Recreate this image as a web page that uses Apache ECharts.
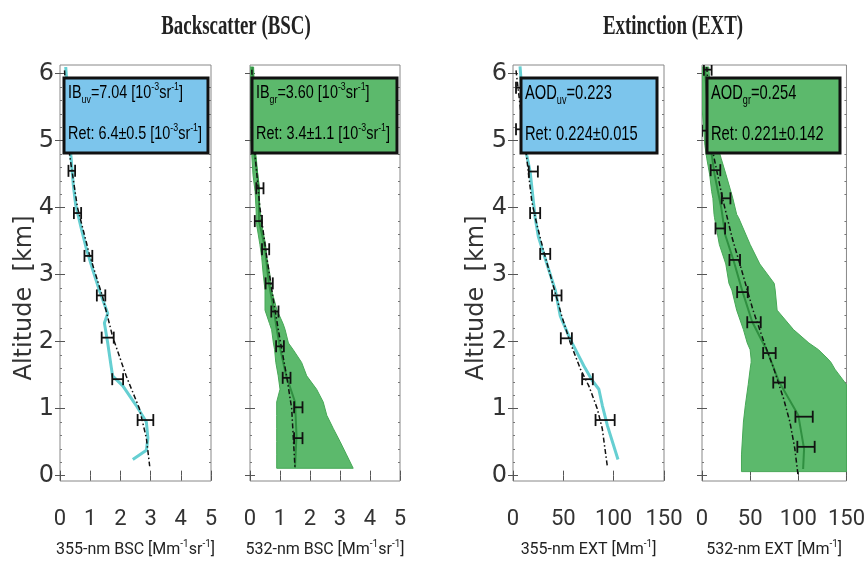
<!DOCTYPE html>
<html><head><meta charset="utf-8">
<script src="https://cdn.jsdelivr.net/npm/echarts@6/dist/echarts.min.js"></script>
<style>html,body{margin:0;padding:0;background:#fff}#c{width:868px;height:563px}</style>
</head><body><div id="c"></div>
<script>
// ---------------- data ----------------
const altTicks = [0, 1, 2, 3, 4, 5, 6];
const altMinorTicks = [0.2,0.4,0.6,0.8,1.2,1.4,1.6,1.8,2.2,2.4,2.6,2.8,3.2,3.4,3.6,3.8,4.2,4.4,4.6,4.8,5.2,5.4,5.6,5.8];
// Panel 1: 355-nm BSC
const bsc355Meas = [[0.19,6.1],[0.28,5.5],[0.36,4.78],[0.44,4.34],[0.52,4.04],[0.7,3.7],[0.86,3.41],[1.1,3.05],[1.3,2.77],[1.58,2.42],[1.47,2.28],[1.58,1.98],[1.69,1.64],[1.74,1.49],[2.08,1.34],[2.52,1.05],[2.86,0.8],[2.91,0.56],[2.86,0.38],[2.41,0.24]];
const bsc355Ret = [[0.15,6.05],[0.25,5.3],[0.32,4.78],[0.58,4.0],[0.97,3.31],[1.41,2.67],[1.74,2.08],[2.19,1.49],[2.63,1.0],[2.86,0.56],[2.97,0.14]];
const bsc355Err = [[0.39,4.55,0.11],[0.58,3.92,0.12],[0.94,3.28,0.13],[1.36,2.69,0.14],[1.58,2.06,0.2],[1.91,1.44,0.18],[2.83,0.83,0.26]];
// Panel 2: 532-nm BSC
const bsc532Band = [ // [alt, low, high]
  [6.1,0,0.12],[5.0,0.03,0.2],[4.78,0.06,0.2],[4.49,0.1,0.26],[4.24,0.17,0.3],[4.0,0.2,0.33],[3.75,0.22,0.39],[3.45,0.33,0.52],[3.26,0.39,0.56],[3.01,0.44,0.66],[2.77,0.5,0.72],[2.47,0.5,0.9],[2.27,0.65,1.1],[2.18,0.72,1.17],[1.98,0.78,1.28],[1.88,0.82,1.44],[1.69,0.86,1.72],[1.49,0.94,1.89],[1.29,1.0,2.22],[1.10,0.89,2.44],[0.90,0.89,2.56],[0.70,0.89,2.78],[0.51,0.89,3.0],[0.31,0.89,3.22],[0.11,0.89,3.44]];
const bsc532Meas = [[0.08,6.1],[0.12,5.2],[0.15,4.8],[0.3,4.3],[0.3,3.8],[0.5,3.4],[0.62,2.9],[0.8,2.45],[0.98,1.95],[1.2,1.5],[1.5,1.1],[1.55,0.6],[1.5,0.12]];
const bsc532Ret = [[0.06,6.06],[0.17,4.78],[0.33,4.0],[0.56,3.26],[0.78,2.62],[1.0,2.03],[1.22,1.49],[1.39,1.0],[1.5,0.11]];
const bsc532Err = [[0.33,4.29,0.12],[0.28,3.8,0.12],[0.52,3.38,0.12],[0.64,2.87,0.12],[0.83,2.45,0.12],[1.0,1.93,0.13],[1.22,1.46,0.13],[1.61,1.02,0.14],[1.61,0.56,0.14]];
// Panel 3: 355-nm EXT
const ext355Meas = [[7,6.11],[10,5.5],[13.7,4.78],[17,4.54],[20.3,4.09],[22,3.85],[25.3,3.56],[33.7,3.16],[42,2.77],[47,2.38],[57,2.03],[70.3,1.64],[78.7,1.42],[85.3,1.29],[88.7,1.05],[93.7,0.75],[98.7,0.51],[104.3,0.24]];
const ext355Ret = [[3,6.05],[8,5.4],[13.7,4.73],[18.7,4.09],[23.7,3.75],[30.3,3.36],[40.3,2.82],[48.7,2.37],[57,1.98],[67,1.59],[75.3,1.34],[83.7,1.0],[88.7,0.7],[93.7,0.14]];
const ext355Err = [[8,5.79,5],[8,5.17,5],[20.2,4.54,4.5],[22,3.92,5],[32,3.31,5],[43.5,2.69,4.7],[53,2.05,5.5],[74,1.44,5.3],[91.5,0.83,9.5]];
// Panel 4: 532-nm EXT
const ext532Band = [
  [6.1,0,7],[5.5,0,10],[4.93,3,16],[4.73,5,20],[4.49,8,25],[4.24,10,30],[4.14,11.3,32],[3.9,12.5,36],[3.85,13,38],[3.45,18,50],[3.16,24.7,60],[2.87,28,75],[2.77,31,76],[2.47,36,78],[2.18,43,95],[1.98,47,111],[1.88,50,121],[1.74,51,131],[1.69,51,134],[1.59,50,138],[1.36,48,150],[1.05,45,150],[0.8,43,150],[0.31,41,150],[0.06,41,150]];
const ext532Meas = [[3,6.1],[8,5.0],[13,4.5],[20,4.0],[24,3.6],[33,3.2],[42,2.75],[52,2.3],[68,1.85],[80,1.4],[100,0.9],[106,0.4],[105,0.1]];
const ext532Ret = [[5,6.1],[8,5.4],[11.3,4.83],[21.3,4.14],[31.3,3.55],[41.3,3.06],[53,2.47],[64.7,1.98],[74.7,1.59],[84.7,1.15],[91.3,0.8],[96.3,0.41],[99.7,0.01]];
const ext532Err = [[6,6.06,4],[4,5.15,4],[14,4.56,5],[25,4.14,4.5],[19,3.69,5],[34,3.22,5.5],[42,2.74,5.5],[54,2.29,7],[70,1.83,6.5],[80,1.39,6],[106,0.88,9],[108,0.43,9]];

const xNames = ['{n|355-nm BSC [Mm}{p|-1}{n|sr}{p|-1}{n|]}','{n|532-nm BSC [Mm}{p|-1}{n|sr}{p|-1}{n|]}','{n|355-nm EXT [Mm}{p|-1}{n|]}','{n|532-nm EXT [Mm}{p|-1}{n|]}'];
const boxTexts = [
  ['{n|IB}{s|uv}{n|=7.04 [10}{p|-3}{n|sr}{p|-1}{n|]}', '{n|Ret: 6.4±0.5 [10}{p|-3}{n|sr}{p|-1}{n|]}'],
  ['{n|IB}{s|gr}{n|=3.60 [10}{p|-3}{n|sr}{p|-1}{n|]}', '{n|Ret: 3.4±1.1 [10}{p|-3}{n|sr}{p|-1}{n|]}'],
  ['{n|AOD}{s|uv}{n|=0.223}', '{n|Ret: 0.224±0.015}'],
  ['{n|AOD}{s|gr}{n|=0.254}', '{n|Ret: 0.221±0.142}']
];
const titles = ['Backscatter (BSC)', 'Extinction (EXT)'];
const yTitle = 'Altitude  [km]';

// ---------------- layout / style ----------------
const SANS = '"Liberation Sans",Arial,sans-serif';
const TICKF = 'Roboto,"Liberation Sans",sans-serif';
const CYAN = '#66cfd2', BLUE_BOX = '#7cc5ec', GREEN = '#5cb96c', GREEN_EDGE = '#47a857', DKGREEN = '#2f8f40';
const grids = [
  {left:60, top:65, width:151, height:421},
  {left:250, top:65, width:150, height:421},
  {left:513, top:65, width:151, height:421},
  {left:702, top:65, width:150, height:421}
];
const xMax = [5,5,150,150], xInt = [1,1,50,50];
const YMIN = -0.08, YMAX = 6.13;

const supRich = (size, color, fam) => ({
  n:{fontSize:size, fontFamily:fam, color:color, lineHeight:size+6},
  p:{fontSize:Math.round(size*0.6), fontFamily:fam, color:color, lineHeight:Math.round(size*0.6), verticalAlign:'top'},
  s:{fontSize:Math.round(size*0.62), fontFamily:fam, color:color, lineHeight:Math.round(size*0.6), verticalAlign:'bottom'}
});

const xAxes = [], yAxes = [];
const yAxisIdx = [];
grids.forEach((g, i) => {
  const tick = {inside:true, length:5, lineStyle:{color:'#555'}};
  const minor = {inside:true, length:2, lineStyle:{color:'#777'}, customValues:altMinorTicks};
  xAxes.push({type:'value', gridIndex:i, min:0, max:xMax[i], interval:xInt[i], position:'bottom',
    axisLine:{show:false}, axisTick:tick, splitLine:{show:false},
    axisLabel:{margin:27, fontSize:22, fontFamily:TICKF, color:'#333'},
    name:xNames[i], nameLocation:'middle', nameGap:58, nameTextStyle:{rich:supRich(16,'#222',TICKF)}});
  xAxes.push({type:'value', gridIndex:i, min:0, max:xMax[i], interval:xInt[i], position:'top',
    axisLine:{show:false}, axisTick:tick, splitLine:{show:false}, axisLabel:{show:false}});
  const hasLab = (i === 0 || i === 2);
  yAxisIdx.push(yAxes.length);
  yAxes.push({type:'value', gridIndex:i, min:YMIN, max:YMAX, position:'left',
    axisLine:{show:false}, splitLine:{show:false},
    axisTick:Object.assign({customValues:altTicks}, tick),
    axisLabel:{show:hasLab, customValues:altTicks, margin:6, fontSize:24, fontFamily:'"DejaVu Sans",sans-serif', color:'#333'}});
  yAxes.push({type:'value', gridIndex:i, min:YMIN, max:YMAX, position:'right',
    axisLine:{show:false}, splitLine:{show:false},
    axisTick:Object.assign({customValues:altTicks}, tick), axisLabel:{show:false}});
  // minor tick marks on both sides
  yAxes.push({type:'value', gridIndex:i, min:YMIN, max:YMAX, position:'left', offset:0,
    axisLine:{show:false}, splitLine:{show:false}, axisTick:minor, axisLabel:{show:false}});
  yAxes.push({type:'value', gridIndex:i, min:YMIN, max:YMAX, position:'right', offset:0,
    axisLine:{show:false}, splitLine:{show:false}, axisTick:minor, axisLabel:{show:false}});
});

function lineSeries(i, data, color, width, dash, z) {
  return {type:'line', xAxisIndex:2*i, yAxisIndex:yAxisIdx[i], data:data, showSymbol:false, symbol:'none',
    lineStyle:{color:color, width:width, type:dash || 'solid'}, z:z, silent:true, clip:true};
}
function errSeries(i, data) {
  return {type:'custom', xAxisIndex:2*i, yAxisIndex:yAxisIdx[i], data:data, z:5, silent:true, clip:true,
    renderItem:function(params, api){
      const x = api.value(0), y = api.value(1), e = api.value(2);
      const l = api.coord([x-e, y]), r = api.coord([x+e, y]);
      const st = {stroke:'#111', lineWidth:1.8};
      return {type:'group', children:[
        {type:'line', shape:{x1:l[0], y1:l[1], x2:r[0], y2:r[1]}, style:st},
        {type:'line', shape:{x1:l[0], y1:l[1]-6, x2:l[0], y2:l[1]+6}, style:st},
        {type:'line', shape:{x1:r[0], y1:r[1]-6, x2:r[0], y2:r[1]+6}, style:st}
      ]};
    }};
}
function bandSeries(i, band) {
  return {type:'custom', xAxisIndex:2*i, yAxisIndex:yAxisIdx[i], data:band.map(b => [b[1], b[0]]), z:1, silent:true, clip:true,
    renderItem:function(params, api){
      if (params.dataIndex !== 0) return null;
      const pts = band.map(b => api.coord([b[1], b[0]]))
        .concat(band.slice().reverse().map(b => api.coord([b[2], b[0]])));
      return {type:'polygon', shape:{points:pts}, style:{fill:GREEN, stroke:GREEN_EDGE, lineWidth:1}};
    }};
}
const DASHDOT = [5, 2.5, 1.5, 2.5];
const series = [
  lineSeries(0, bsc355Meas, CYAN, 3, null, 3),
  lineSeries(0, bsc355Ret, '#111', 1.5, DASHDOT, 4),
  errSeries(0, bsc355Err),
  bandSeries(1, bsc532Band),
  lineSeries(1, bsc532Meas, DKGREEN, 2, null, 3),
  lineSeries(1, bsc532Ret, '#111', 1.5, DASHDOT, 4),
  errSeries(1, bsc532Err),
  lineSeries(2, ext355Meas, CYAN, 3, null, 3),
  lineSeries(2, ext355Ret, '#111', 1.5, DASHDOT, 4),
  errSeries(2, ext355Err),
  bandSeries(3, ext532Band),
  lineSeries(3, ext532Meas, DKGREEN, 2, null, 3),
  lineSeries(3, ext532Ret, '#111', 1.5, DASHDOT, 4),
  errSeries(3, ext532Err)
];

// info boxes
const boxes = [
  {x:64, y:78, w:144, h:75, fill:BLUE_BOX, size:18, sx:0.8, color:'#444'},
  {x:252, y:78, w:145, h:75, fill:GREEN, size:18, sx:0.8, color:'#3a3a3a'},
  {x:521, y:78, w:136, h:75, fill:BLUE_BOX, size:21, sx:0.7, color:'#1a1a1a'},
  {x:707, y:78, w:133, h:75, fill:GREEN, size:21, sx:0.7, color:'#1a1a1a'}
];
const graphics = [];
boxes.forEach((b, i) => {
  graphics.push({type:'rect', z:100, shape:{x:b.x, y:b.y, width:b.w, height:b.h},
    style:{fill:b.fill, stroke:'#111', lineWidth:3}});
  [[15, 0], [56, 1]].forEach(r => {
    graphics.push({type:'text', z:101, x:b.x+4, y:b.y+r[0], scaleX:b.sx,
      style:{text:boxTexts[i][r[1]], rich:supRich(b.size, b.color, SANS), textAlign:'left', textVerticalAlign:'middle', align:'left', verticalAlign:'middle'}});
  });
});
[[236, titles[0]], [673, titles[1]]].forEach(t => {
  graphics.push({type:'text', z:100, x:t[0], y:27, scaleX:0.7,
    style:{text:t[1], fontFamily:'"Liberation Serif","Times New Roman",serif', fontWeight:'bold', fontSize:27, fill:'#222',
      textAlign:'center', textVerticalAlign:'middle', align:'center', verticalAlign:'middle'}});
});
[25, 477].forEach(x => {
  graphics.push({type:'text', z:100, x:x, y:298, rotation:Math.PI/2,
    style:{text:yTitle, fontFamily:'"DejaVu Sans",sans-serif', fontSize:24, fill:'#333',
      textAlign:'center', textVerticalAlign:'middle', align:'center', verticalAlign:'middle'}});
});

const chart = echarts.init(document.getElementById('c'), null, {renderer:'canvas'});
chart.setOption({
  animation:false,
  backgroundColor:'#fff',
  grid: grids.map(g => Object.assign({show:true, borderColor:'#888', borderWidth:1, backgroundColor:'transparent', containLabel:false}, g)),
  xAxis: xAxes,
  yAxis: yAxes,
  series: series,
  graphic: {elements: graphics}
});
</script></body></html>
